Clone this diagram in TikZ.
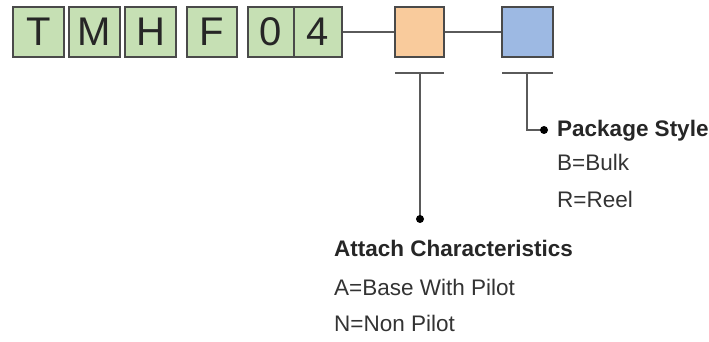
\documentclass[tikz,border=0pt]{standalone}
\usepackage{fontspec}
\setmainfont{Liberation Sans}
\definecolor{gfill}{HTML}{C6E0B4}
\definecolor{ofill}{HTML}{F9CB9C}
\definecolor{bfill}{HTML}{9DB9E3}
\definecolor{edge}{HTML}{4A4A4A}
\definecolor{wire}{HTML}{5A5A5A}
\definecolor{txt}{HTML}{333333}
\tikzset{
  codebox/.style={draw=edge, line width=1.6pt, fill=gfill, minimum height=50pt, inner sep=0pt,
    font=\fontsize{40}{40}\selectfont, text=black!85},
  colbox/.style={draw=edge, line width=1.6pt, minimum height=50pt, inner sep=0pt},
  wireline/.style={draw=wire, line width=2pt},
  lbl/.style={anchor=base west, inner sep=0pt, text=txt, font=\fontsize{22.5}{22.5}\selectfont},
  lblb/.style={lbl, font=\fontsize{22.5}{22.5}\selectfont\bfseries, text=black!85},
}
\begin{document}
\begin{tikzpicture}[x=1pt,y=-1pt]
\useasboundingbox (0,0) rectangle (709,342);
% code boxes
\node[codebox, minimum width=51pt] (t) at (38.5,32) {T};
\node[codebox, minimum width=51pt] (m) at (94.5,32) {M};
\node[codebox, minimum width=51pt] (h) at (150.5,32) {H};
\node[codebox, minimum width=50pt] (f) at (212,32) {F};
\node[codebox, minimum width=46pt] (z) at (271,32) {0};
\node[codebox, minimum width=48pt] (four) at (318,32) {4};
\node[colbox, fill=ofill, minimum width=49pt] (ob) at (419.5,32) {};
\node[colbox, fill=bfill, minimum width=51pt] (bb) at (527.5,32) {};
% connectors
\draw[wireline] (four.east) -- (ob.west);
\draw[wireline] (ob.east) -- (bb.west);
% bars
\coordinate (obl) at (395,73);
\coordinate (obr) at (444,73);
\coordinate (obm) at (420,73);
\coordinate (bbl) at (502,73);
\coordinate (bbr) at (553,73);
\coordinate (bbm) at (527,73);
\draw[wireline] (obl) -- (obr);
\draw[wireline] (bbl) -- (bbr);
% labels
\node[lblb] (ac) at (334,256.5) {Attach Characteristics};
\node[lbl] (a1) at (334,295) {A=Base With Pilot};
\node[lbl] (a2) at (334,331.5) {N=Non Pilot};
\node[lblb] (ps) at (557,136) {Package Style};
\node[lbl] (p1) at (557,170.5) {B=Bulk};
\node[lbl] (p2) at (557,207.5) {R=Reel};
% stems
\coordinate (odot) at (420,219);
\coordinate (bcorner) at (527,130);
\coordinate (bdot) at (544,130);
\draw[wireline] (obm) -- (odot);
\fill[black] (odot) circle (4pt);
\draw[wireline] (bbm) -- (bcorner) -- (bdot);
\fill[black] (bdot) circle (4pt);
\end{tikzpicture}
\end{document}
